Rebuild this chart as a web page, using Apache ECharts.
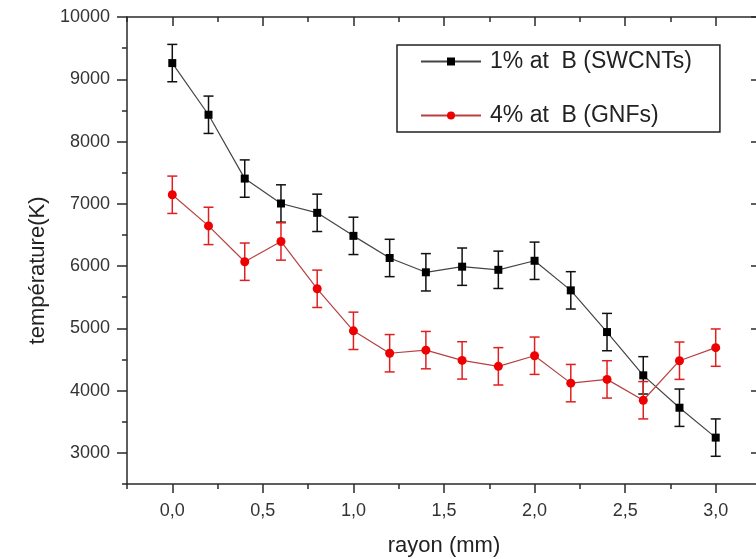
<!DOCTYPE html>
<html>
<head>
<meta charset="utf-8">
<script src="https://cdn.jsdelivr.net/npm/echarts@6/dist/echarts.min.js"></script>
<style>
  html, body { margin: 0; padding: 0; background: #ffffff; }
  #chart { width: 756px; height: 559px; }
</style>
</head>
<body>
<div id="chart"></div>
<script>
// Radial temperature profiles with error bars
const radius = [0.0, 0.2, 0.4, 0.6, 0.8, 1.0, 1.2, 1.4, 1.6, 1.8, 2.0, 2.2, 2.4, 2.6, 2.8, 3.0];
const tempSWCNT = [9260, 8430, 7405, 7005, 6855, 6485, 6130, 5900, 5990, 5940, 6085, 5610, 4940, 4245, 3725, 3245];
const errSWCNT  = [300, 300, 300, 300, 300, 300, 300, 300, 300, 300, 300, 300, 300, 300, 300, 300];
const tempGNF   = [7145, 6645, 6070, 6395, 5635, 4960, 4600, 4650, 4485, 4390, 4560, 4120, 4180, 3845, 4480, 4690];
const errGNF    = [300, 300, 300, 300, 300, 300, 300, 300, 300, 300, 300, 300, 300, 300, 300, 300];

const seriesNames = ['1% at  B (SWCNTs)', '4% at  B (GNFs)'];

const xMajorTicks = [0, 0.5, 1.0, 1.5, 2.0, 2.5, 3.0];
const xMinorTicks = [-0.25, 0.25, 0.75, 1.25, 1.75, 2.25, 2.75, 3.25];
const yMajorTicks = [3000, 4000, 5000, 6000, 7000, 8000, 9000, 10000];
const yMinorTicks = [2500, 3500, 4500, 5500, 6500, 7500, 8500, 9500];

const FONT = 'Arial, "Liberation Sans", sans-serif';
const AXIS_COLOR = '#2a2a2a';
const TEXT_COLOR = '#333333';

const X_MIN = -0.25, X_MAX = 3.25;
const Y_MIN = 2500, Y_MAX = 10000;

function xAxisDef(position, ticks, len, inside, withLabels, showLine) {
  const def = {
    type: 'value', position: position, min: X_MIN, max: X_MAX,
    axisLine: { show: showLine, onZero: false, lineStyle: { color: AXIS_COLOR, width: 1.5 } },
    axisTick: { show: true, customValues: ticks, length: len, inside: inside,
                lineStyle: { color: AXIS_COLOR, width: 1.5 } },
    axisLabel: { show: false },
    splitLine: { show: false }
  };
  if (withLabels) {
    def.axisLabel = {
      show: true, customValues: ticks, margin: 18,
      fontFamily: FONT, fontSize: 18, color: TEXT_COLOR,
      formatter: v => v.toFixed(1).replace('.', ',')
    };
    def.name = 'rayon (mm)';
    def.nameLocation = 'middle';
    def.nameGap = 51;
    def.nameTextStyle = { fontFamily: FONT, fontSize: 22, color: '#222' };
  }
  return def;
}

function yAxisDef(position, ticks, len, inside, withLabels, showLine) {
  const def = {
    type: 'value', position: position, min: Y_MIN, max: Y_MAX,
    axisLine: { show: showLine, onZero: false, lineStyle: { color: AXIS_COLOR, width: 1.5 } },
    axisTick: { show: true, customValues: ticks, length: len, inside: inside,
                lineStyle: { color: AXIS_COLOR, width: 1.5 } },
    axisLabel: { show: false },
    splitLine: { show: false }
  };
  if (withLabels) {
    def.axisLabel = {
      show: true, customValues: ticks, margin: 17,
      fontFamily: FONT, fontSize: 18, color: TEXT_COLOR,
      formatter: v => String(v)
    };
    def.name = 'température(K)';
    def.nameLocation = 'middle';
    def.nameGap = 74;
    def.nameTextStyle = { fontFamily: FONT, fontSize: 22, color: '#222', padding: [0, 40, 0, 0] };
  }
  return def;
}

function errorBars(xs, ys, errs) {
  return xs.map((x, i) => [x, ys[i] - errs[i], ys[i] + errs[i]]);
}

function errorRenderer(color) {
  return function (params, api) {
    const x = api.value(0);
    const lo = api.coord([x, api.value(1)]);
    const hi = api.coord([x, api.value(2)]);
    const half = 5;
    const style = { stroke: color, lineWidth: 1.5, fill: null };
    return {
      type: 'group',
      children: [
        { type: 'line', shape: { x1: hi[0], y1: hi[1], x2: lo[0], y2: lo[1] }, style: style },
        { type: 'line', shape: { x1: hi[0] - half, y1: hi[1], x2: hi[0] + half, y2: hi[1] }, style: style },
        { type: 'line', shape: { x1: lo[0] - half, y1: lo[1], x2: lo[0] + half, y2: lo[1] }, style: style }
      ]
    };
  };
}

const chart = echarts.init(document.getElementById('chart'), null, { renderer: 'canvas' });

chart.setOption({
  backgroundColor: '#ffffff',
  animation: false,
  grid: { left: 127, right: -5, top: 17, bottom: 75, containLabel: false, outerBoundsMode: 'none' },
  legend: {
    data: seriesNames,
    orient: 'vertical',
    left: 397, top: 45,
    padding: [5, 28, 5, 23],
    itemGap: 31,
    itemWidth: 60, itemHeight: 10,
    borderColor: '#222', borderWidth: 1.5,
    backgroundColor: '#ffffff',
    textStyle: { fontFamily: FONT, fontSize: 23, color: '#222', padding: [0, 0, 0, 4] }
  },
  xAxis: [
    xAxisDef('bottom', xMajorTicks, 9, false, true, true),
    xAxisDef('bottom', xMinorTicks, 5, false, false, false),
    xAxisDef('top', xMajorTicks, 9, true, false, true),
    xAxisDef('top', xMinorTicks, 5, true, false, false)
  ],
  yAxis: [
    yAxisDef('left', yMajorTicks, 10, false, true, true),
    yAxisDef('left', yMinorTicks, 5, false, false, false),
    yAxisDef('right', yMajorTicks, 10, true, false, true),
    yAxisDef('right', yMinorTicks, 5, true, false, false)
  ],
  series: [
    {
      type: 'custom', name: 'errSWCNT', xAxisIndex: 0, yAxisIndex: 0, z: 2,
      data: errorBars(radius, tempSWCNT, errSWCNT),
      renderItem: errorRenderer('#111111'),
      encode: { x: 0, y: [1, 2] }, silent: true
    },
    {
      type: 'custom', name: 'errGNF', xAxisIndex: 0, yAxisIndex: 0, z: 2,
      data: errorBars(radius, tempGNF, errGNF),
      renderItem: errorRenderer('#e02020'),
      encode: { x: 0, y: [1, 2] }, silent: true
    },
    {
      type: 'line', name: seriesNames[0], xAxisIndex: 0, yAxisIndex: 0, z: 5,
      data: radius.map((x, i) => [x, tempSWCNT[i]]),
      symbol: 'rect', symbolSize: 8,
      itemStyle: { color: '#000000' },
      lineStyle: { color: '#444444', width: 1.2 }
    },
    {
      type: 'line', name: seriesNames[1], xAxisIndex: 0, yAxisIndex: 0, z: 5,
      data: radius.map((x, i) => [x, tempGNF[i]]),
      symbol: 'circle', symbolSize: 9,
      itemStyle: { color: '#ee0000' },
      lineStyle: { color: '#b84040', width: 1.2 }
    }
  ]
});
</script>
</body>
</html>
